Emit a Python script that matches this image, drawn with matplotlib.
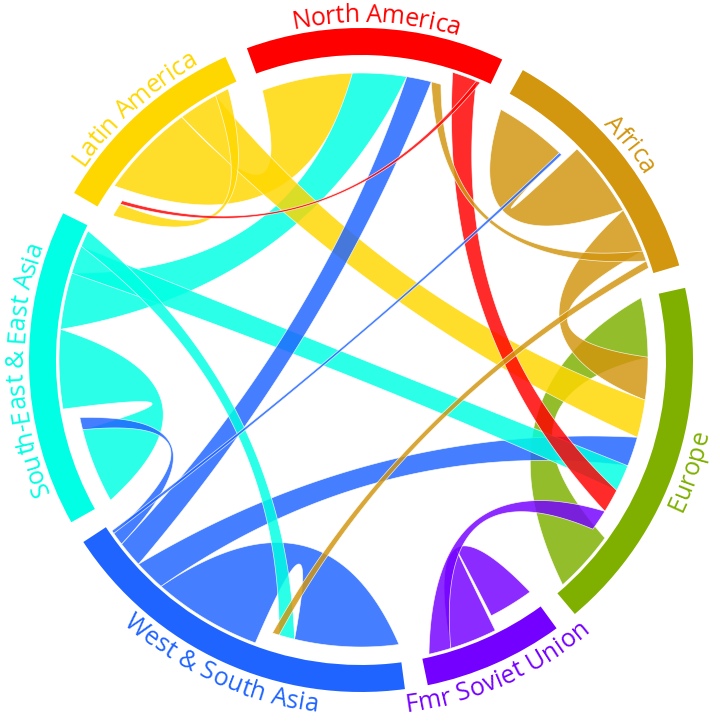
import numpy as np
import matplotlib
matplotlib.use("Agg")
import matplotlib.pyplot as plt
from matplotlib.patches import Polygon, Wedge
from matplotlib.font_manager import FontProperties, findfont
from matplotlib.ft2font import FT2Font

# regions clockwise from the top
regions = ["North America", "Africa", "Europe", "Fmr Soviet Union",
           "West & South Asia", "South-East & East Asia", "Latin America"]
colors = ["#FF0000", "#D2960F", "#7FB000", "#7400FF",
          "#1F64FF", "#00FFE4", "#FFD700"]

# migration flows, origin (rows) -> destination (cols), same order as regions
flows = [
    [0.0, 0.0, 4.8, 0.0, 0.0, 0.0, 0.8],     # North America
    [2.0, 14.6, 8.6, 0.0, 1.4, 0.0, 0.0],    # Africa
    [0.0, 0.0, 12.0, 0.0, 0.0, 0.0, 0.0],    # Europe
    [0.0, 0.0, 4.3, 9.1, 0.0, 0.0, 0.0],     # Fmr Soviet Union
    [5.0, 0.6, 6.0, 0.0, 21.0, 2.5, 0.0],    # West & South Asia
    [10.9, 0.0, 5.4, 0.0, 3.2, 15.2, 0.0],   # South-East & East Asia
    [18.4, 0.0, 7.6, 0.0, 0.0, 0.0, 2.7],    # Latin America
]
# small flows that take room on the circle but are not drawn
minor_in = [1.5, 1.3, 0.0, 0.6, 2.5, 2.2, 1.5]
minor_out = [1.9, 1.2, 1.8, 1.4, 1.2, 0.9, 2.0]

# ---------------- geometry ----------------
cx, cy = 361, 362
R_OUT, BAND = 332, 27
R_SRC, R_DST = 302, 287
R_CTRL = 133
GAP = 4.0
START = -20.1

F = np.array(flows)
n = len(regions)
totals = F.sum(axis=0) + F.sum(axis=1) + np.array(minor_in) + np.array(minor_out)
scale = (360 - n * GAP) / totals.sum()


def unit(theta):
    t = np.radians(theta)
    return np.array([np.sin(t), np.cos(t)])


def pt(theta, r):
    return np.array([cx, cy]) + r * unit(theta)


def arc(a1, a2, r, k=60):
    t = np.radians(np.linspace(a1, a2, k))
    return np.column_stack([cx + r * np.sin(t), cy + r * np.cos(t)])


def bezier(a, ra, b, rb, k=80):
    # quadratic curve pulled towards a point on the bisector of a and b;
    # the further apart the ends, the closer that point is to the centre
    p0, p2 = pt(a, ra), pt(b, rb)
    v = unit(a) + unit(b)
    norm = np.hypot(*v)
    c = np.array([cx, cy])
    if norm > 1e-9:
        # |v| = 2 cos(delta / 2)
        c = c + R_CTRL * (norm / 2) * v / norm
    t = np.linspace(0, 1, k)[:, None]
    return (1 - t) ** 2 * p0 + 2 * t * (1 - t) * c + t ** 2 * p2


# sector spans and link ends
sectors = []
src_arc, dst_arc = {}, {}
pos = START
for i in range(n):
    s0 = pos
    ins = sorted([j for j in range(n) if F[j, i] > 0], key=lambda j: -F[j, i])
    for j in ins:
        dst_arc[(j, i)] = (pos, pos + F[j, i] * scale)
        pos += F[j, i] * scale
    pos += minor_in[i] * scale
    outs = sorted([j for j in range(n) if F[i, j] > 0], key=lambda j: -F[i, j])
    for j in outs:
        src_arc[(i, j)] = (pos, pos + F[i, j] * scale)
        pos += F[i, j] * scale
    pos += minor_out[i] * scale
    sectors.append((s0, pos))
    pos += GAP

fig = plt.figure(figsize=(7.2, 7.22), dpi=100)
ax = fig.add_axes([0, 0, 1, 1])
ax.set_xlim(0, 720)
ax.set_ylim(0, 722)
ax.set_aspect("equal")
ax.axis("off")

# outer band
for i, (a1, a2) in enumerate(sectors):
    ax.add_patch(Wedge((cx, cy), R_OUT, 90 - a2, 90 - a1, width=BAND,
                       color=colors[i], lw=0))

# chords, largest drawn first
links = sorted(src_arc.keys(), key=lambda k: -F[k])
for z, (i, j) in enumerate(links):
    s1, s2 = src_arc[(i, j)]
    d1, d2 = dst_arc[(i, j)]
    poly = np.vstack([arc(s1, s2, R_SRC),
                      bezier(s2, R_SRC, d1, R_DST),
                      arc(d1, d2, R_DST),
                      bezier(d2, R_DST, s1, R_SRC)])
    ax.add_patch(Polygon(poly, closed=True, facecolor=colors[i], alpha=0.83,
                         edgecolor="white", lw=0.5, zorder=2 + z * 0.01))

# curved labels
fp = FontProperties(family="Open Sans", size=18)
font = FT2Font(findfont(fp))
font.set_size(18, 100)
for i, (a1, a2) in enumerate(sectors):
    name = regions[i]
    mid = (a1 + a2) / 2
    adv = [font.load_char(ord(ch)).linearHoriAdvance / 65536 for ch in name]
    cum = np.concatenate([[0], np.cumsum(adv)])
    centers = (cum[:-1] + cum[1:]) / 2 - cum[-1] / 2
    m = mid % 360
    flipped = 90 < m < 260
    r_base = 355 if flipped else 338
    for ch, off in zip(name, centers):
        d = np.degrees(off / 346)
        th = mid - d if flipped else mid + d
        rot = 180 - th if flipped else -th
        x, y = pt(th, r_base)
        ax.text(x, y, ch, fontproperties=fp, color=colors[i], rotation=rot,
                rotation_mode="anchor", ha="center", va="baseline")

fig.savefig("out.png", dpi=100)
